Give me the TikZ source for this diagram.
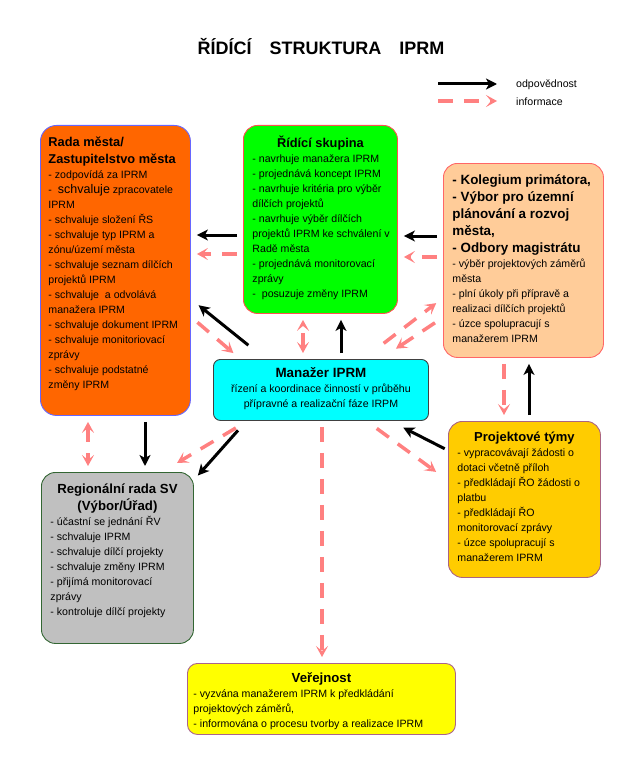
\documentclass[tikz,border=0pt]{standalone}
\usepackage{fontspec}
\setmainfont{Liberation Sans}
\usetikzlibrary{arrows.meta,calc}
\definecolor{radafill}{RGB}{255,102,0}
\definecolor{radaline}{RGB}{102,102,255}
\definecolor{ridicifill}{RGB}{0,255,0}
\definecolor{ridiciline}{RGB}{255,80,80}
\definecolor{kolegfill}{RGB}{255,204,153}
\definecolor{kolegline}{RGB}{255,102,102}
\definecolor{manazfill}{RGB}{0,255,255}
\definecolor{manazline}{RGB}{64,64,64}
\definecolor{tymyfill}{RGB}{255,204,0}
\definecolor{tymyline}{RGB}{170,100,130}
\definecolor{regiofill}{RGB}{192,192,192}
\definecolor{regioline}{RGB}{51,102,51}
\definecolor{verefill}{RGB}{255,255,0}
\definecolor{vereline}{RGB}{170,100,140}
\definecolor{infopink}{RGB}{255,128,128}
\newcommand{\hdfont}[2]{\bfseries\fontsize{#1}{#2}\selectfont}
\newcommand{\txfont}{\mdseries\fontsize{10.6}{15}\selectfont}
\newcommand{\boxtext}[4]{\parbox[c][#3][t]{#2}{\raggedright\leftskip=#1\relax #4}}
\begin{document}
\begin{tikzpicture}[x=1pt, y=-1pt,
  box/.style={draw, line width=0.9pt, rounded corners=14pt, anchor=north west, inner sep=0pt},
  resp/.style={draw=black, line width=3pt, -{Stealth[length=11pt,width=11pt,inset=3pt]}, shorten <=6pt, shorten >=6pt},
  info/.style={draw=infopink, line width=3.5pt, dash pattern=on 15pt off 11pt, -{Stealth[length=11pt,width=12pt,inset=5pt]}, shorten <=6pt, shorten >=6pt},
  infoboth/.style={info, {Stealth[length=11pt,width=12pt,inset=5pt]}-{Stealth[length=11pt,width=12pt,inset=5pt]}},
  legendtext/.style={anchor=west, inner sep=0pt, font=\txfont}]
\useasboundingbox (0,0) rectangle (641,773);

\node[font=\bfseries\fontsize{18}{20}\selectfont] (title) at (321,47) {ŘÍDÍCÍ\hspace{18pt}STRUKTURA\hspace{18pt}IPRM};
\node[legendtext] (odp) at (516,85) {odpovědnost};
\node[legendtext] (inf) at (516,102) {informace};
\draw[resp] ($(odp.west)+(-84,-1)$) -- ($(odp.west)+(-13,-1)$);
\draw[info] ($(inf.west)+(-84,-1)$) -- ($(inf.west)+(-13,-1)$);

\node[box, fill=radafill, draw=radaline, rounded corners=16pt] (rada) at (40,125) {\boxtext{8pt}{150pt}{290pt}{\vspace*{9pt}\hdfont{12.8}{17}\strut Rada města/\\Zastupitelstvo města\par
  \txfont - zodpovídá za IPRM\\
  - \ {\fontsize{12.5}{15}\selectfont schvaluje} zpracovatele\\IPRM\\
  - schvaluje složení ŘS\\
  - schvaluje typ IPRM a\\zónu/území města\\
  - schvaluje seznam dílčích\\projektů IPRM\\
  - schvaluje \ a odvolává\\manažera IPRM\\
  - schvaluje dokument IPRM\\
  - schvaluje monitoriovací\\zprávy\\
  - schvaluje podstatné\\změny IPRM}};
\node[box, fill=ridicifill, draw=ridiciline] (ridici) at (243,125) {\boxtext{9pt}{154pt}{188pt}{\vspace*{10pt}{\centering\hdfont{12.8}{17}\strut Řídící skupina\par}
  \txfont - navrhuje manažera IPRM\\
  - projednává koncept IPRM\\
  - navrhuje kritéria pro výběr\\dílčích projektů\\
  - navrhuje výběr dílčích\\projektů IPRM ke schválení v\\Radě města\\
  - projednává monitorovací\\zprávy\\
  - \ posuzuje změny IPRM}};
\node[box, fill=kolegfill, draw=kolegline] (kolegium) at (443,163) {\boxtext{9pt}{160pt}{194pt}{\vspace*{9pt}\hdfont{13.4}{17}\strut - Kolegium primátora,\\- Výbor pro územní\\plánování a rozvoj\\města,\\- Odbory magistrátu\par
  \txfont - výběr projektových záměrů\\města\\
  - plní úkoly při přípravě a\\realizaci dílčích projektů\\
  - úzce spolupracují s\\manažerem IPRM}};
\node[box, fill=manazfill, draw=manazline, rounded corners=7pt] (manazer) at (213,359) {\boxtext{0pt}{215pt}{61pt}{\centering\vspace*{6pt}\hdfont{13.4}{17}\strut Manažer IPRM\par
  \txfont řízení a koordinace činností v průběhu\\přípravné a realizační fáze IRPM}};
\node[box, fill=tymyfill, draw=tymyline] (tymy) at (448,421) {\boxtext{9pt}{152pt}{156pt}{\vspace*{8pt}{\centering\hdfont{13}{17}\strut Projektové týmy\par}
  \txfont - vypracovávají žádosti o\\dotaci včetně příloh\\
  - předkládají ŘO žádosti o\\platbu\\
  - předkládají ŘO\\monitorovací zprávy\\
  - úzce spolupracují s\\manažerem IPRM}};
\node[box, fill=regiofill, draw=regioline] (regio) at (41,472) {\boxtext{9pt}{152pt}{171pt}{\vspace*{10.5pt}{\centering\hdfont{13.2}{15}\strut Regionální rada SV\\(Výbor/Úřad)\par}
  \txfont - účastní se jednání ŘV\\
  - schvaluje IPRM\\
  - schvaluje dílčí projekty\\
  - schvaluje změny IPRM\\
  - přijímá monitorovací\\zprávy\\
  - kontroluje dílčí projekty}};
\node[box, fill=verefill, draw=vereline, rounded corners=10pt] (verejnost) at (187,663) {\boxtext{6pt}{268pt}{71pt}{\vspace*{8.5pt}{\centering\hdfont{13.2}{15}\strut Veřejnost\par}
  \txfont - vyzvána manažerem IPRM k předkládání\\projektových záměrů,\\
  - informována o procesu tvorby a realizace IPRM}};

\draw[resp] (ridici.west |- 0,235) -- (rada.east |- 0,235);
\draw[resp] (kolegium.west |- 0,236) -- (ridici.east |- 0,236);
\draw[resp] (manazer.north -| 341,0) -- (ridici.south -| 341,0);
\draw[resp] (tymy.north -| 529,0) -- (kolegium.south -| 529,0);
\draw[resp] (rada.south -| 145,0) -- (regio.north -| 145,0);
\draw[resp] ($(manazer.north west)+(40,-10)$) -- ($(rada.east)+(3,31)$);
\draw[resp] ($(manazer.south west)+(29,5)$) -- ($(regio.north east)+(0,8)$);
\draw[resp] ($(tymy.west)+(2,-48)$) -- ($(manazer.south east)+(-31,4)$);

\draw[info] (ridici.west |- 0,254) -- (rada.east |- 0,254);
\draw[info] (kolegium.west |- 0,257) -- (ridici.east |- 0,257);
\draw[infoboth] (manazer.north -| 303,0) -- (ridici.south -| 303,0);
\draw[info] (kolegium.south -| 504,0) -- (tymy.north -| 504,0);
\draw[infoboth] (rada.south -| 88,0) -- (regio.north -| 88,0);
\draw[info] (manazer.south -| 322,0) -- (verejnost.north -| 322,0);
\draw[info] ($(rada.east)+(2,48)$) -- ($(manazer.north west)+(25,-2)$);
\draw[info] ($(manazer.north east)+(-50,-12)$) -- ($(kolegium.west)+(-2,39)$);
\draw[info] ($(kolegium.west)+(-3,59)$) -- ($(manazer.north east)+(-38,-7)$);
\draw[info] ($(manazer.south west)+(28,4)$) -- ($(regio.north east)+(-22,-6)$);
\draw[info] ($(manazer.south east)+(-57,4)$) -- ($(tymy.west)+(-7,-24)$);
\end{tikzpicture}
\end{document}
